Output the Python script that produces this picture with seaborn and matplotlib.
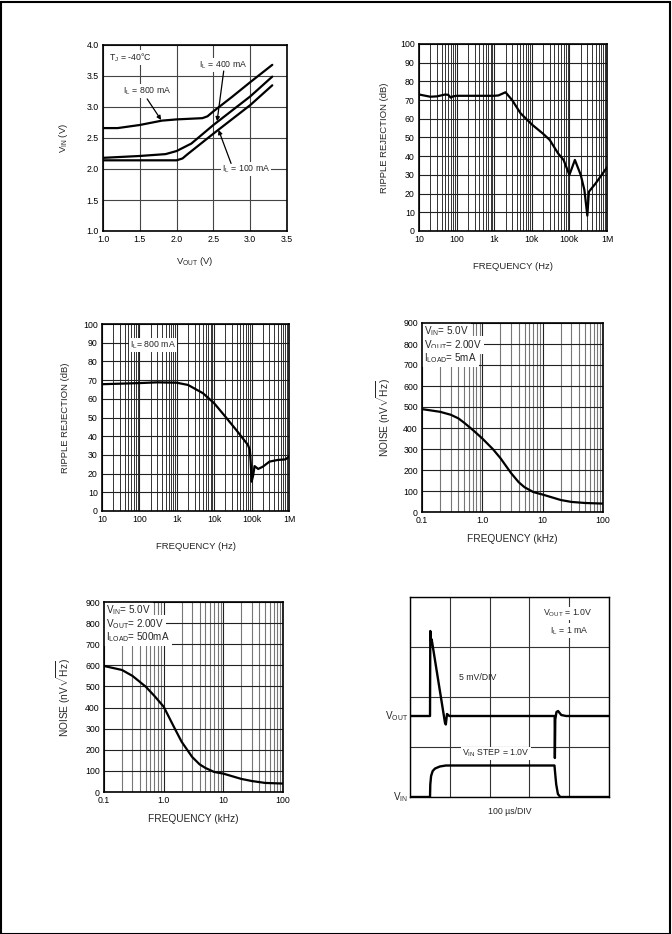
import numpy as np
import pandas as pd
import seaborn as sns
import matplotlib.pyplot as plt
from matplotlib.ticker import LogLocator, FixedLocator, FixedFormatter, NullFormatter
from matplotlib.patches import Rectangle

sns.set_style("white")
plt.rcParams['font.family'] = ['Liberation Sans', 'DejaVu Sans']
plt.rcParams['mathtext.fontset'] = 'custom'
plt.rcParams['mathtext.rm'] = 'Liberation Sans'
plt.rcParams['mathtext.it'] = 'Liberation Sans'
plt.rcParams['mathtext.bf'] = 'Liberation Sans'

FS = 6.3

# --- dropout: VIN vs VOUT (TJ = -40C)
vout_800 = [1.0, 1.2, 1.5, 1.8, 2.0, 2.35, 2.42, 2.5, 2.75, 3.0, 3.3]
vin_800 = [2.66, 2.66, 2.71, 2.78, 2.80, 2.82, 2.85, 2.93, 3.16, 3.40, 3.68]
vout_400 = [1.0, 1.5, 1.85, 2.0, 2.2, 2.5, 3.0, 3.3]
vin_400 = [2.18, 2.21, 2.24, 2.29, 2.41, 2.71, 3.17, 3.49]
vout_100 = [1.0, 1.5, 2.0, 2.08, 2.15, 2.5, 3.0, 3.3]
vin_100 = [2.14, 2.14, 2.14, 2.17, 2.24, 2.57, 3.03, 3.35]

# --- ripple rejection (top right)
rr1_f = [10, 20, 30, 50, 60, 70, 80, 100, 1000, 1300, 2000, 3000, 5000, 10000, 20000,
         30000, 50000, 70000, 100000, 140000, 200000, 250000, 300000, 330000, 500000, 1000000]
rr1_db = [73, 71.8, 72, 73, 72.8, 71.3, 72, 72.3, 72.3, 72.5, 74.2, 70, 63, 57, 52,
          48.7, 41.5, 38, 30, 38, 30, 22, 8.2, 21, 25.5, 34]

# --- ripple rejection, IL = 800 mA (middle left)
rr2_f = [10, 100, 300, 1000, 2000, 5000, 10000, 20000, 40000, 80000, 90000, 95000,
         100000, 110000, 120000, 150000, 200000, 300000, 500000, 800000, 1000000]
rr2_db = [67.8, 68.4, 68.8, 68.6, 67.4, 63, 57.6, 50.4, 43, 35.3, 32.6, 25.5,
          15.7, 19, 24, 22.5, 23.7, 26.4, 27.3, 27.6, 29]

# --- noise, ILOAD = 5 mA
n1_f = [0.1, 0.2, 0.3, 0.4, 0.5, 0.7, 1.0, 1.5, 2.0, 3.0, 4.0, 5.0, 7.0, 10, 20, 30, 50, 100]
n1_v = [490, 477, 463, 446, 425, 390, 350, 299, 256, 185, 142, 118, 95, 83, 57, 48, 43, 40]

# --- noise, ILOAD = 500 mA
n2_f = [0.1, 0.2, 0.3, 0.5, 0.7, 1.0, 1.5, 2.0, 3.0, 4.0, 5.0, 7.0, 10, 20, 30, 50, 100]
n2_v = [597, 578, 550, 499, 455, 404, 306, 238, 166, 131, 114, 95, 87, 62, 52, 43, 40]

# --- line transient (scope, time in us, level in divisions)
vo_t = [0, 50.3, 51, 53, 54.5, 88, 90, 93, 99, 363.5, 364, 365, 368, 372, 380, 392, 500]
vo_v = [1.62, 1.62, 3.32, 3.12, 3.15, 1.48, 1.45, 1.66, 1.62, 1.62, 0.78, 1.55, 1.70, 1.72, 1.64, 1.62, 1.62]
vi_t = [0, 50.3, 51, 53, 57, 63, 75, 90, 363, 365, 367.4, 371.6, 377.5, 500]
vi_v = [0, 0, 0.25, 0.42, 0.52, 0.57, 0.61, 0.63, 0.63, 0.45, 0.25, 0.06, 0.0, 0.0]

freq_ticks = [10, 100, 1000, 10000, 100000, 1000000]
freq_labels = ['10', '100', '1k', '10k', '100k', '1M']
khz_ticks = [0.1, 1, 10, 100]
khz_labels = ['0.1', '1.0', '10', '100']

W, H = 672, 934
fig = plt.figure(figsize=(W / 100, H / 100), dpi=100)


def make_ax(l, r, t, b):
    return fig.add_axes([l / W, 1 - b / H, (r - l) / W, (b - t) / H])


def style(ax):
    for s in ax.spines.values():
        s.set_color('black')
        s.set_linewidth(1.2)
        s.set_zorder(5)
    ax.tick_params(which='both', length=0, labelsize=FS, pad=3, colors='black')
    ax.set_axisbelow(True)


def line(ax, x, y, lw=1.6):
    sns.lineplot(x=x, y=y, ax=ax, color='black', lw=lw, sort=False, estimator=None)


tbox = dict(facecolor='white', edgecolor='none', pad=0.6)
arrow = dict(arrowstyle='-|>', color='black', lw=0.9, mutation_scale=6, shrinkA=0, shrinkB=0)

# ---------------- chart 1
ax1 = make_ax(103, 287, 45, 231)
style(ax1)
line(ax1, vout_800, vin_800)
line(ax1, vout_400, vin_400)
line(ax1, vout_100, vin_100)
ax1.set_xlim(1.0, 3.5)
ax1.set_ylim(1.0, 4.0)
ax1.set_xticks(np.arange(1.0, 3.51, 0.5))
ax1.set_yticks(np.arange(1.0, 4.01, 0.5))
ax1.xaxis.set_major_formatter('{x:.1f}')
ax1.yaxis.set_major_formatter('{x:.1f}')
ax1.grid(True, color='#444444', lw=0.8)
ax1.set_xlabel(r'V$_{\rm OUT}$ (V)', fontsize=FS + 0.5)
ax1.set_ylabel(r'V$_{\rm IN}$ (V)', fontsize=FS + 0.5)
ax1.xaxis.set_label_coords(0.5, -0.13)
ax1.yaxis.set_label_coords(-0.18, 0.5)
ax1.text(1.08, 3.80, r'T$_{\rm J}$ = -40°C', fontsize=FS, va='center', bbox=tbox)
ax1.text(2.31, 3.68, r'I$_{\rm L}$ = 400 mA', fontsize=FS, va='center', bbox=tbox)
ax1.text(1.27, 3.26, r'I$_{\rm L}$ = 800 mA', fontsize=FS, va='center', bbox=tbox)
ax1.text(2.62, 2.00, r'I$_{\rm L}$ = 100 mA', fontsize=FS, va='center', bbox=tbox)
ax1.annotate('', xy=(1.79, 2.79), xytext=(1.60, 3.13), arrowprops=arrow)
ax1.annotate('', xy=(2.55, 2.77), xytext=(2.64, 3.58), arrowprops=arrow)
ax1.annotate('', xy=(2.57, 2.63), xytext=(2.74, 2.09), arrowprops=arrow)


def ripple_axes(ax, f, db):
    style(ax)
    line(ax, f, db)
    ax.set_xscale('log')
    ax.set_xlim(10, 1e6)
    ax.set_ylim(0, 100)
    ax.set_yticks(range(0, 101, 10))
    ax.xaxis.set_major_locator(FixedLocator(freq_ticks))
    ax.xaxis.set_major_formatter(FixedFormatter(freq_labels))
    ax.xaxis.set_minor_locator(LogLocator(base=10, subs=range(2, 10), numticks=20))
    ax.xaxis.set_minor_formatter(NullFormatter())
    ax.grid(True, which='major', color='#222222', lw=0.8)
    ax.grid(True, which='minor', axis='x', color='#333333', lw=0.7)
    ax.set_xlabel('FREQUENCY (Hz)', fontsize=FS + 0.5)
    ax.set_ylabel('RIPPLE REJECTION (dB)', fontsize=FS + 0.5)


# ---------------- chart 2
ax2 = make_ax(419, 607, 44, 231)
ripple_axes(ax2, rr1_f, rr1_db)
ax2.xaxis.set_label_coords(0.5, -0.166)
ax2.yaxis.set_label_coords(-0.16, 0.5)

# ---------------- chart 3
ax3 = make_ax(102, 289, 324, 511)
ripple_axes(ax3, rr2_f, rr2_db)
ax3.xaxis.set_label_coords(0.5, -0.166)
ax3.yaxis.set_label_coords(-0.171, 0.5)
ax3.text(57, 88.8, r'I$_{\rm L}$= 800 mA', fontsize=FS, va='center', bbox=tbox)


def noise_axes(ax, f, v, load):
    style(ax)
    line(ax, f, v)
    ax.set_xscale('log')
    ax.set_xlim(0.1, 100)
    ax.set_ylim(0, 900)
    ax.set_yticks(range(0, 901, 100))
    ax.xaxis.set_major_locator(FixedLocator(khz_ticks))
    ax.xaxis.set_major_formatter(FixedFormatter(khz_labels))
    ax.xaxis.set_minor_locator(LogLocator(base=10, subs=range(2, 10), numticks=20))
    ax.xaxis.set_minor_formatter(NullFormatter())
    ax.grid(True, which='major', color='#222222', lw=0.8)
    ax.grid(True, which='minor', axis='x', color='#777777', lw=0.8)
    ax.set_xlabel('FREQUENCY (kHz)', fontsize=FS + 1)
    ax.set_ylabel(r'NOISE (nV$\sqrt{\rm Hz}$)', fontsize=FS + 1)
    ax.xaxis.set_label_coords(0.5, -0.116)
    ty = [860, 795, 735]
    txt = [r'V$_{\rm IN}$= 5.0V', r'V$_{\rm OUT}$= 2.00V', r'I$_{\rm LOAD}$= ' + load]
    for yy, s in zip(ty, txt):
        ax.text(0.108, yy, s, fontsize=FS + 0.8, va='center', bbox=dict(facecolor='white', edgecolor='none', pad=1.6))


# ---------------- chart 4
ax4 = make_ax(422, 603, 323, 512)
noise_axes(ax4, n1_f, n1_v, '5mA')
ax4.yaxis.set_label_coords(-0.16, 0.5)

# ---------------- chart 5
ax5 = make_ax(104, 283, 602, 792)
noise_axes(ax5, n2_f, n2_v, '500mA')
ax5.yaxis.set_label_coords(-0.173, 0.5)

# ---------------- chart 6 (scope)
ax6 = make_ax(410, 609, 597, 797)
style(ax6)
for s in ax6.spines.values():
    s.set_linewidth(1.0)
line(ax6, vo_t, vo_v, lw=1.7)
line(ax6, vi_t, vi_v, lw=1.7)
ax6.set_xlim(0, 500)
ax6.set_ylim(0, 4)
ax6.set_xticks(range(0, 501, 100))
ax6.set_yticks(range(0, 5))
ax6.set_xticklabels([])
ax6.set_yticklabels([])
ax6.grid(True, color='#333333', lw=0.8)
ax6.text(124, 2.39, '5 mV/DIV', fontsize=FS, va='center')
ax6.text(131, 0.87, r'V$_{\rm IN}$ STEP = 1.0V', fontsize=FS, va='center', bbox=tbox)
ax6.text(396, 3.67, r'V$_{\rm OUT}$ = 1.0V', fontsize=FS, va='center', ha='center', bbox=tbox)
ax6.text(400, 3.33, r'I$_{\rm L}$ = 1 mA', fontsize=FS, va='center', ha='center', bbox=tbox)
ax6.text(-0.01, 1.62, r'V$_{\rm OUT}$', fontsize=FS + 0.8, va='center', ha='right',
         transform=ax6.get_yaxis_transform())
ax6.text(-0.01, 0.0, r'V$_{\rm IN}$', fontsize=FS + 0.8, va='center', ha='right',
         transform=ax6.get_yaxis_transform())
ax6.text(0.5, -0.075, '100 µs/DIV', fontsize=FS, va='center', ha='center', transform=ax6.transAxes)

# page frame
fig.add_artist(Rectangle((0.5 / W, 0.5 / H), 1 - 3 / W, 1 - 2 / H, transform=fig.transFigure,
                         fill=False, edgecolor='black', lw=1.5))

fig.savefig('out.png', dpi=100)
